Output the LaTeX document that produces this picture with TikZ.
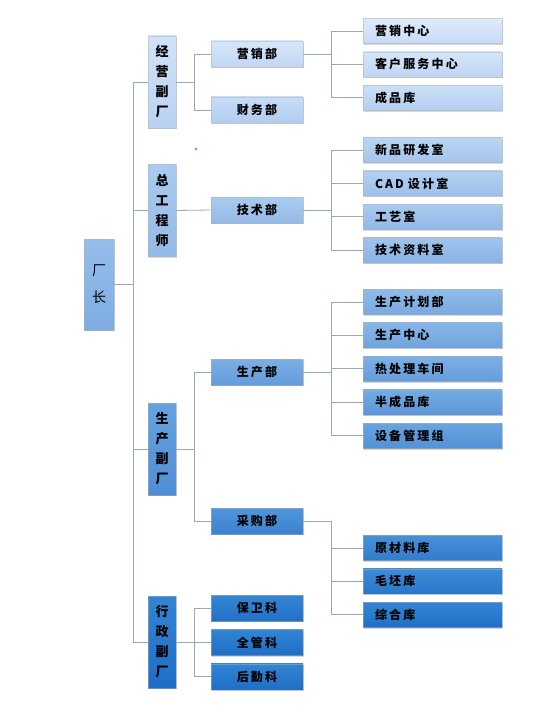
\documentclass[tikz,border=0pt]{standalone}
\usepackage{fontspec}
\usetikzlibrary{positioning,shadows}
\newfontfamily\cjk{Noto Sans CJK SC}[LetterSpace=18]
\newfontfamily\cjkv{Noto Sans CJK SC}
\definecolor{lightT}{RGB}{226,237,252}
\definecolor{lightB}{RGB}{203,221,247}
\definecolor{darkT}{RGB}{50,132,212}
\definecolor{darkB}{RGB}{30,110,198}
\definecolor{linkgray}{RGB}{150,170,176}

\begin{document}
\begin{tikzpicture}[x=1pt,y=-1pt,
  tone/.style={top color=lightT!#1!darkT,bottom color=lightB!#1!darkB},
  base/.style={draw=black!30,draw opacity=0.5,line width=0.4pt,inner sep=0pt,
    drop shadow={shadow xshift=0.8pt,shadow yshift=-1.4pt,opacity=0.3}},
  unit/.style={base,minimum width=139pt,minimum height=25pt,text width=115pt,align=left,
    font=\cjk\bfseries\fontsize{12}{14}\selectfont},
  dept/.style={base,minimum width=92pt,minimum height=26pt,font=\cjk\bfseries\fontsize{12}{14}\selectfont},
  vice/.style={base,minimum width=28pt,minimum height=92pt,align=center,
    font=\cjkv\bfseries\fontsize{13}{20}\selectfont},
  link/.style={linkgray,line width=0.8pt}]
  \fill[white] (0,0) rectangle (544,706);
  \useasboundingbox (0,0) rectangle (544,706);

  % top
  \node[base,tone=56,minimum width=30pt,minimum height=91pt,align=center,
    font=\cjkv\fontsize{14}{27}\selectfont] (boss) at (99,284.5) {厂\\长};

  % deputies
  \node[vice,tone=90] (jy) at (162,82) {经\\营\\副\\厂};
  \node[vice,tone=68] (zg) at (162,210.5) {总\\工\\程\\师};
  \node[vice,tone=29] (sc) at (162,449) {生\\产\\副\\厂};
  \node[vice,tone=0] (xz) at (162,642) {行\\政\\副\\厂};

  % departments
  \node[dept,tone=94] (yx) at (257,54) {营销部};
  \node[dept,tone=85] (cw) at (257,110) {财务部};
  \node[dept,tone=68] (js) at (257,210) {技术部};
  \node[dept,tone=41] (scb) at (257,372) {生产部};
  \node[dept,tone=17] (cg) at (257,521) {采购部};
  \node[dept,tone=2] (bw) at (257,608) {保卫科};
  \node[dept,tone=0,below=8pt of bw] (qg) {全管科};
  \node[dept,tone=0,below=8pt of qg] (hq) {后勤科};

  % units
  \node[unit,tone=98] (yxzx) at (432.5,31) {营销中心};
  \node[unit,tone=93,below=8pt of yxzx] (khfw) {客户服务中心};
  \node[unit,tone=87,below=8pt of khfw] (cpk) {成品库};

  \node[unit,tone=78] (xpyf) at (432.5,150) {新品研发室};
  \node[unit,tone=73,below=8pt of xpyf] (cad) {CAD 设计室};
  \node[unit,tone=67,below=8pt of cad] (gys) {工艺室};
  \node[unit,tone=62,below=8pt of gys] (jszl) {技术资料室};

  \node[unit,tone=53] (scjh) at (432.5,302) {生产计划部};
  \node[unit,tone=48,below=8pt of scjh] (sczx) {生产中心};
  \node[unit,tone=42,below=8pt of sczx] (rcl) {热处理车间};
  \node[unit,tone=37,below=8pt of rcl] (bcp) {半成品库};
  \node[unit,tone=31,below=8pt of bcp] (sbgl) {设备管理组};

  \node[unit,tone=12] (ycl) at (432.5,548) {原材料库};
  \node[unit,tone=7,below=8pt of ycl] (mp) {毛坯库};
  \node[unit,tone=1,below=8pt of mp] (zh) {综合库};

  % links
  \foreach \v in {jy,zg,sc,xz}
    \draw[link] (boss.east) -- ++(19,0) |- (\v.west);
  \foreach \d in {yx,cw}
    \draw[link] (jy.east) -- ++(18,0) |- (\d.west);
  \draw[link] (zg.east) -- (js.west);
  \foreach \d in {scb,cg}
    \draw[link] (sc.east) -- ++(18,0) |- (\d.west);
  \foreach \d in {bw,qg,hq}
    \draw[link] (xz.east) -- ++(18,0) |- (\d.west);
  \foreach \u in {yxzx,khfw,cpk}
    \draw[link] (yx.east) -- ++(28,0) |- (\u.west);
  \foreach \u in {xpyf,cad,gys,jszl}
    \draw[link] (js.east) -- ++(28,0) |- (\u.west);
  \foreach \u in {scjh,sczx,rcl,bcp,sbgl}
    \draw[link] (scb.east) -- ++(28,0) |- (\u.west);
  \foreach \u in {ycl,mp,zh}
    \draw[link] (cg.east) -- ++(28,0) |- (\u.west);

  \fill[blue!55!cyan,opacity=0.6] (196,149) circle (1.6);
\end{tikzpicture}
\end{document}
